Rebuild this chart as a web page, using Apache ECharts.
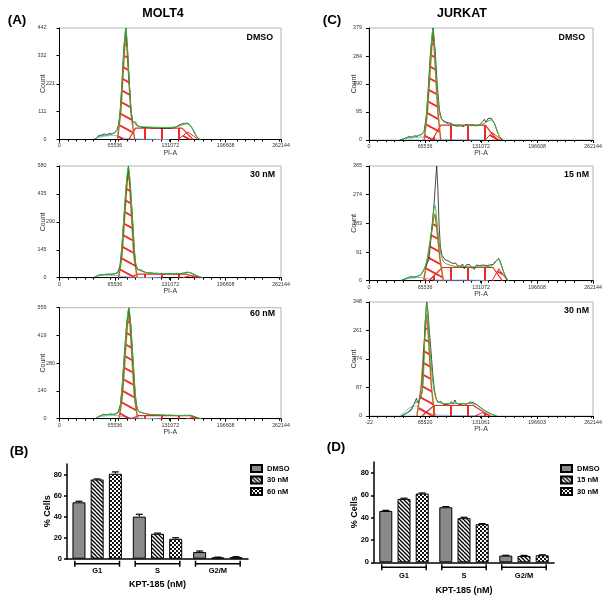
<!DOCTYPE html>
<html><head><meta charset="utf-8">
<script src="https://cdn.jsdelivr.net/npm/echarts@6/dist/echarts.min.js"></script>
<style>html,body{margin:0;padding:0;background:#fff}#c{width:612px;height:605px}</style>
</head><body><div id="c"></div>
<script>
// ---------------- DATA ----------------
// PI-A tick labels
const piTicks = [0, 65536, 131072, 196608, 262144];
const piTicksJurkat30 = [-22, 65520, 131061, 196603, 262144];
// Count tick labels
const molt4DmsoY = [0, 111, 221, 332, 442];
const molt4_30Y = [0, 145, 290, 435, 580];
const molt4_60Y = [0, 140, 280, 419, 559];
const jurkatDmsoY = [0, 95, 190, 284, 379];
const jurkat15Y = [0, 91, 183, 274, 365];
const jurkat30Y = [0, 87, 174, 261, 348];

// MOLT4 DMSO histogram (PI-A channel, count)
const molt4DmsoRaw = [[40000,0],[44000,5],[46000,15],[50000,18],[53000,22],[56000,19],[59000,24],[62000,22],[65000,27],[68000,38],[70000,60],[72000,120],[74000,230],[76000,360],[78500,442],[80500,360],[82500,230],[84500,120],[86500,72],[88000,66],[90000,68],[92000,55],[94000,58],[96000,50],[98000,54],[100000,47],[102000,52],[104000,48],[106000,51],[108000,46],[110000,50],[112000,45],[114000,51],[116000,46],[118000,49],[120000,44],[122000,49],[124000,45],[126000,48],[128000,44],[130000,48],[132000,45],[134000,50],[136000,47],[138000,51],[140000,54],[142000,57],[144000,61],[146000,59],[148000,64],[150000,62],[152000,65],[154000,59],[156000,50],[158000,38],[160000,24],[162000,12],[164000,4],[166000,0]];
const molt4DmsoFit = [[44000,8],[50000,15],[56000,18],[62000,22],[66000,28],[70000,52],[74000,225],[78500,440],[82500,225],[86000,80],[90000,58],[95000,52],[100000,50],[110000,49],[120000,48],[130000,48],[138000,50],[144000,56],[150000,62],[154000,58],[158000,40],[162000,15],[165000,3],[167000,0]];
const molt4DmsoG1 = [[68500,0],[72500,110],[78500,415],[84500,110],[89000,0]];
const molt4DmsoS = [[82000,0],[90000,45],[145000,45],[158000,0]];
const molt4DmsoG2 = [[140000,0],[152000,30],[164000,0]];
const molt4DmsoDebris = [[46000,8],[55000,14],[64000,16],[72000,10],[80000,4],[90000,2],[110000,1],[130000,0]];

// MOLT4 30 nM
const molt4_30Raw = [[40000,0],[44000,8],[47000,14],[52000,16],[57000,18],[62000,17],[66000,21],[69000,28],[71500,60],[74000,170],[76500,330],[79000,480],[81500,578],[84000,470],[86500,300],[88500,140],[90500,60],[92500,42],[94500,38],[96500,40],[98500,33],[100500,30],[103000,27],[106000,24],[109000,26],[112000,22],[115000,24],[118000,21],[121000,23],[124000,20],[127000,22],[130000,20],[133000,22],[136000,21],[139000,23],[142000,20],[145000,22],[148000,25],[151000,29],[154000,27],[157000,21],[160000,14],[163000,8],[166000,3],[169000,0]];
const molt4_30Fit = [[42000,5],[48000,14],[56000,18],[64000,20],[69000,25],[72000,60],[76000,300],[81500,572],[86500,300],[90000,80],[93000,42],[97000,34],[102000,27],[110000,23],[120000,21],[130000,21],[140000,21],[148000,24],[153000,27],[158000,21],[163000,10],[168000,2],[170000,0]];
const molt4_30G1 = [[70000,0],[74000,120],[81500,555],[88000,120],[92000,0]];
const molt4_30S = [[84000,0],[92000,19],[150000,19],[162000,0]];
const molt4_30G2 = [[146000,0],[156000,12],[166000,0]];
const molt4_30Debris = [[44000,8],[55000,12],[66000,12],[76000,6],[90000,2],[120000,0]];

// MOLT4 60 nM
const molt4_60Raw = [[42000,0],[46000,10],[48000,18],[52000,22],[56000,20],[60000,24],[64000,22],[67000,26],[69500,35],[72000,70],[74500,180],[77000,340],[79500,480],[82000,559],[84500,470],[87000,300],[89500,120],[92000,50],[94000,36],[96000,38],[98000,30],[100000,28],[103000,24],[106000,22],[109000,20],[112000,21],[115000,18],[118000,20],[121000,17],[124000,19],[127000,16],[130000,18],[133000,16],[136000,17],[139000,15],[142000,17],[145000,15],[148000,18],[151000,16],[154000,18],[157000,14],[160000,10],[163000,5],[166000,1],[168000,0]];
const molt4_60Fit = [[44000,5],[48000,15],[56000,20],[64000,22],[69000,28],[72000,60],[76500,300],[82000,555],[87000,300],[91000,70],[94000,36],[98000,30],[104000,23],[112000,20],[122000,18],[134000,17],[146000,16],[154000,16],[160000,10],[165000,3],[168000,0]];
const molt4_60G1 = [[70500,0],[74500,120],[82000,540],[88500,120],[92500,0]];
const molt4_60S = [[85000,0],[93000,15],[155000,15],[164000,0]];
const molt4_60G2 = [[150000,0],[158000,5],[166000,0]];
const molt4_60Debris = [[45000,8],[55000,14],[66000,16],[76000,10],[90000,3],[120000,0]];

// JURKAT DMSO
const jurkatDmsoRaw = [[36000,0],[40000,3],[44000,8],[47000,12],[50000,9],[53000,14],[56000,12],[59000,17],[62000,20],[64500,30],[67000,80],[69500,180],[72000,300],[74900,379],[77500,300],[80000,180],[82500,100],[85000,70],[87000,73],[89000,62],[91000,66],[93000,58],[95000,52],[97000,56],[99000,49],[101000,53],[103000,47],[105000,52],[107000,48],[109000,50],[111000,45],[113000,52],[115000,47],[117000,50],[119000,46],[121000,51],[123000,47],[125000,49],[127000,46],[129000,50],[131000,55],[133000,62],[135000,70],[137000,60],[139000,72],[141000,66],[143000,74],[145000,68],[147000,55],[149000,38],[151000,22],[153000,10],[155000,3],[157000,0]];
const jurkatDmsoFit = [[38000,2],[44000,8],[50000,11],[56000,14],[61000,18],[65000,30],[69000,150],[74900,375],[79000,200],[82500,90],[86000,66],[90000,58],[96000,52],[105000,50],[115000,49],[125000,48],[132000,52],[138000,62],[143000,68],[147000,55],[150000,30],[153000,10],[157000,0]];
const jurkatDmsoG1 = [[64500,0],[68500,100],[74900,360],[80500,100],[84000,0]];
const jurkatDmsoS = [[74000,0],[84000,50],[136000,50],[150000,0]];
const jurkatDmsoG2 = [[136000,0],[144000,25],[156000,0]];
const jurkatDmsoDebris = [[40000,3],[50000,7],[60000,10],[70000,8],[80000,3],[100000,1],[130000,0]];

// JURKAT 15 nM
const jurkat15Raw = [[37000,0],[41000,4],[45000,9],[49000,13],[53000,11],[57000,14],[61000,20],[64000,34],[66000,45],[68000,50],[70000,66],[72000,120],[74000,180],[76000,240],[77500,300],[79200,365],[80500,300],[82000,180],[83500,108],[85500,80],[87500,76],[89500,66],[91500,70],[93500,62],[95500,66],[97500,55],[99500,50],[101500,56],[103500,48],[105500,52],[107500,46],[109500,53],[111500,38],[113500,50],[115500,47],[117500,52],[119500,44],[121500,48],[123500,36],[125500,50],[127500,46],[129500,48],[131500,44],[133500,50],[135500,46],[137500,48],[139500,45],[141500,50],[143500,48],[145500,52],[147500,60],[149500,66],[151500,71],[153500,62],[155500,45],[157500,28],[159500,14],[161500,4],[163000,0]];
const jurkat15Fit = [[38000,2],[44000,8],[50000,12],[56000,14],[61000,20],[65000,40],[69000,80],[73000,150],[77000,241],[80500,160],[83500,95],[87000,62],[92000,52],[100000,46],[110000,45],[120000,44],[130000,44],[140000,45],[146000,52],[151000,68],[155000,48],[158000,25],[161000,8],[163000,0]];
const jurkat15G1 = [[64000,0],[68500,70],[77000,212],[83000,70],[87000,0]];
const jurkat15S = [[70000,0],[86000,42],[145000,42],[156000,0]];
const jurkat15G2 = [[144000,0],[152000,38],[162000,0]];
const jurkat15Debris = [[40000,3],[50000,8],[60000,10],[70000,6],[80000,2],[110000,2],[140000,0]];

// JURKAT 30 nM
const jurkat30Raw = [[37000,0],[41000,3],[44000,8],[47000,13],[50000,20],[52000,32],[54000,45],[55500,54],[57000,40],[59000,45],[61000,60],[62500,80],[64000,170],[65500,280],[67500,348],[69000,320],[70500,262],[72500,200],[74500,130],[76500,80],[78500,54],[80500,42],[82500,38],[84500,44],[86500,36],[88500,41],[90500,35],[92500,40],[94500,37],[96500,44],[98500,36],[100500,49],[102500,38],[104500,41],[106500,35],[108500,40],[110500,37],[112500,42],[114500,36],[116500,39],[118500,43],[120500,49],[122500,40],[124500,36],[126500,34],[128500,30],[130500,26],[132500,23],[134500,18],[136500,14],[138500,12],[140500,10],[143000,6],[146000,3],[149000,0]];
const jurkat30Fit = [[38000,2],[43000,8],[48000,18],[53000,38],[58000,45],[61000,60],[63500,110],[65500,262],[67500,345],[70000,262],[73000,150],[76000,80],[79000,50],[83000,40],[90000,38],[100000,38],[110000,38],[120000,38],[126000,34],[131000,24],[136000,15],[141000,8],[146000,3],[150000,0]];
const jurkat30G1 = [[56000,0],[61000,90],[67500,310],[73000,90],[77000,0]];
const jurkat30S = [[62000,0],[76000,32],[122000,32],[134000,12],[142000,0]];
const jurkat30G2 = [[124000,0],[132000,10],[142000,0]];
const jurkat30Debris = [[38000,2],[44000,18],[50000,28],[56000,30],[62000,22],[68000,12],[76000,5],[90000,2],[120000,1],[140000,0]];

// Bar charts: % cells per phase (mean, SD)
const phases = ['G1', 'S', 'G2/M'];
const molt4Treatments = ['DMSO', '30 nM', '60 nM'];
const molt4DmsoPct = [53.6, 40.0, 6.3];
const molt4DmsoSd = [1.0, 2.2, 1.0];
const molt4_30Pct = [75.3, 23.7, 1.2];
const molt4_30Sd = [0.5, 0.6, 0.3];
const molt4_60Pct = [80.7, 18.9, 1.5];
const molt4_60Sd = [1.8, 1.0, 0.4];
const jurkatTreatments = ['DMSO', '15 nM', '30 nM'];
const jurkatDmsoPct = [46.1, 49.4, 6.0];
const jurkatDmsoSd = [0.5, 0.6, 0.3];
const jurkat15Pct = [56.9, 39.6, 5.7];
const jurkat15Sd = [0.6, 0.8, 0.5];
const jurkat30Pct = [61.7, 34.2, 6.3];
const jurkat30Sd = [0.5, 0.5, 0.4];
const pctTicks = [0, 20, 40, 60, 80];

// ---------------- STYLE HELPERS ----------------
function makePattern(w, h, draw) {
  const c = document.createElement('canvas');
  c.width = w; c.height = h;
  draw(c.getContext('2d'), w, h);
  return { image: c, repeat: 'repeat' };
}
function diag(ctx, w, h) {
  for (const dx of [-w, 0, w]) for (const dy of [-h, 0, h]) {
    ctx.beginPath(); ctx.moveTo(dx, dy); ctx.lineTo(dx + w, dy + h); ctx.stroke();
  }
}
const RED = '#ee2a24';
const hatchRed = makePattern(22, 12, (ctx, w, h) => { ctx.strokeStyle = RED; ctx.lineWidth = 1.9; diag(ctx, w, h); });
const vertRed = makePattern(17, 4, (ctx) => { ctx.fillStyle = RED; ctx.fillRect(8, 0, 2, 4); });
const stripes = makePattern(4, 4, (ctx, w, h) => { ctx.fillStyle = '#fff'; ctx.fillRect(0, 0, w, h); ctx.strokeStyle = '#000'; ctx.lineWidth = 1.3; diag(ctx, w, h); });
const checker = makePattern(4, 4, (ctx) => { ctx.fillStyle = '#111'; ctx.fillRect(0, 0, 4, 4); ctx.fillStyle = '#fff'; ctx.fillRect(0, 0, 2, 2); ctx.fillRect(2, 2, 2, 2); });
const FONT = 'Arial, "Liberation Sans", sans-serif';

// ---------------- HISTOGRAMS ----------------
const hists = [
  { grid: { left: 59.5, top: 28, width: 221.5, height: 111.5 }, x: piTicks, y: molt4DmsoY, raw: molt4DmsoRaw, fit: molt4DmsoFit, g1: molt4DmsoG1, s: molt4DmsoS, g2: molt4DmsoG2, deb: molt4DmsoDebris, lm: 13, ng: 13, shiftMid: true },
  { grid: { left: 59.5, top: 166, width: 221.5, height: 111.7 }, x: piTicks, y: molt4_30Y, raw: molt4_30Raw, fit: molt4_30Fit, g1: molt4_30G1, s: molt4_30S, g2: molt4_30G2, deb: molt4_30Debris, lm: 13, ng: 13, shiftMid: true },
  { grid: { left: 59.5, top: 307.7, width: 221.5, height: 111 }, x: piTicks, y: molt4_60Y, raw: molt4_60Raw, fit: molt4_60Fit, g1: molt4_60G1, s: molt4_60S, g2: molt4_60G2, deb: molt4_60Debris, lm: 13, ng: 13, shiftMid: true },
  { grid: { left: 369, top: 28, width: 224, height: 112 }, x: piTicks, y: jurkatDmsoY, raw: jurkatDmsoRaw, fit: jurkatDmsoFit, g1: jurkatDmsoG1, s: jurkatDmsoS, g2: jurkatDmsoG2, deb: jurkatDmsoDebris, lm: 7, ng: 11.5 },
  { grid: { left: 369, top: 166, width: 224, height: 114.7 }, x: piTicks, y: jurkat15Y, raw: jurkat15Raw, fit: jurkat15Fit, g1: jurkat15G1, s: jurkat15S, g2: jurkat15G2, deb: jurkat15Debris, lm: 7, ng: 11.5 },
  { grid: { left: 369, top: 302, width: 224, height: 114 }, x: piTicksJurkat30, y: jurkat30Y, raw: jurkat30Raw, fit: jurkat30Fit, g1: jurkat30G1, s: jurkat30S, g2: jurkat30G2, deb: jurkat30Debris, lm: 7, ng: 11.5 }
];

const grids = [], xAxes = [], yAxes = [], series = [], extraY = [];
hists.forEach((h, i) => {
  grids.push(Object.assign({ show: true, borderColor: '#b5b5b5', borderWidth: 1, backgroundColor: 'transparent', outerBoundsMode: 'none' }, h.grid));
  const xt = h.x, yt = h.y;
  const mid = yt[2];
  xAxes.push({
    type: 'value', gridIndex: i, min: xt[0], max: xt[xt.length - 1],
    axisLine: { show: true, onZero: false, lineStyle: { color: '#000', width: 1 } },
    axisTick: { show: true, length: 3, lineStyle: { color: '#000' }, customValues: xt },
    minorTick: { show: true, splitNumber: 5, length: 2, lineStyle: { color: '#000' } },
    axisLabel: { fontSize: 5.3, color: '#333', fontFamily: FONT, margin: 4, customValues: xt, formatter: v => String(Math.round(v)) },
    splitLine: { show: false },
    name: 'PI-A', nameLocation: 'middle', nameGap: 10, nameMoveOverlap: false,
    nameTextStyle: { fontSize: 7, color: '#333', fontFamily: FONT }
  });
  yAxes.push({
    type: 'value', gridIndex: i, min: 0, max: yt[yt.length - 1],
    axisLine: { show: true, lineStyle: { color: '#000', width: 1 } },
    axisTick: { show: true, length: 3, lineStyle: { color: '#000' }, customValues: yt },
    axisLabel: { fontSize: 5.4, color: '#333', fontFamily: FONT, margin: h.lm, customValues: h.shiftMid ? yt.filter(v => v !== mid) : yt },
    splitLine: { show: false },
    name: 'Count', nameLocation: 'middle', nameGap: h.ng, nameRotate: 90, nameMoveOverlap: false,
    nameTextStyle: { fontSize: 7, color: '#333', fontFamily: FONT }
  });
  if (h.shiftMid) {
    // middle tick label sits closer to the axis, beside the "Count" title
    extraY.push({
      type: 'value', gridIndex: i, min: 0, max: yt[yt.length - 1], position: 'left',
      axisLine: { show: false }, axisTick: { show: false }, splitLine: { show: false },
      axisLabel: { fontSize: 5.4, color: '#333', fontFamily: FONT, margin: 4.5, customValues: [mid] }
    });
  }
  const base = { type: 'line', xAxisIndex: i, yAxisIndex: i, showSymbol: false, symbol: 'none', silent: true, animation: false };
  series.push(Object.assign({}, base, { data: h.deb, smooth: 0.5, lineStyle: { color: '#8fb4e8', width: 1 }, z: 2 }));
  series.push(Object.assign({}, base, { data: h.s, lineStyle: { color: RED, width: 1.2 }, areaStyle: { color: vertRed, opacity: 1 }, z: 3 }));
  series.push(Object.assign({}, base, { data: h.g2, lineStyle: { color: RED, width: 1 }, areaStyle: { color: hatchRed, opacity: 1 }, z: 3 }));
  series.push(Object.assign({}, base, { data: h.g1, smooth: 0.15, lineStyle: { color: '#c8642a', width: 1.5 }, areaStyle: { color: hatchRed, opacity: 1 }, z: 4 }));
  series.push(Object.assign({}, base, { data: h.raw, lineStyle: { color: '#1a1a1a', width: 0.8 }, z: 5 }));
  series.push(Object.assign({}, base, { data: h.fit, smooth: 0.3, lineStyle: { color: '#38b838', width: 1 }, z: 6 }));
});

// ---------------- BAR CHARTS ----------------
const barCharts = [
  { grid: { left: 67, top: 464, width: 181, height: 94.7 }, prefix: 'MOLT4 ', names: molt4Treatments, vals: [molt4DmsoPct, molt4_30Pct, molt4_60Pct], sds: [molt4DmsoSd, molt4_30Sd, molt4_60Sd], legend: { left: 250, top: 464 }, nameGap: 21, lm: 8 },
  { grid: { left: 374, top: 462, width: 180, height: 100.3 }, prefix: 'JURKAT ', names: jurkatTreatments, vals: [jurkatDmsoPct, jurkat15Pct, jurkat30Pct], sds: [jurkatDmsoSd, jurkat15Sd, jurkat30Sd], legend: { left: 560, top: 464 }, nameGap: 24, lm: 10 }
];
const fills = ['#8a8a8a', stripes, checker];
const BW = 13, GAP = 0.4;
const legends = [];
barCharts.forEach((b, k) => {
  const gi = 6 + k;
  grids.push(Object.assign({ outerBoundsMode: 'none' }, b.grid));
  xAxes.push({
    type: 'category', gridIndex: gi, data: phases,
    axisLine: { show: true, lineStyle: { color: '#000', width: 1.5 } },
    axisTick: { show: false },
    axisLabel: { fontSize: 7.5, fontWeight: 'bold', color: '#000', fontFamily: FONT, margin: b.lm },
    name: 'KPT-185 (nM)', nameLocation: 'middle', nameGap: b.nameGap, nameMoveOverlap: false,
    nameTextStyle: { fontSize: 9, fontWeight: 'bold', color: '#000', fontFamily: FONT }
  });
  yAxes.push({
    type: 'value', gridIndex: gi, min: 0, max: 90,
    axisLine: { show: true, lineStyle: { color: '#000', width: 1.5 } },
    axisTick: { show: true, length: 3, lineStyle: { color: '#000', width: 1.5 }, customValues: pctTicks },
    axisLabel: { fontSize: 7.5, fontWeight: 'bold', color: '#000', fontFamily: FONT, margin: 5, customValues: pctTicks },
    splitLine: { show: false },
    name: '% Cells', nameLocation: 'middle', nameGap: 15, nameRotate: 90, nameMoveOverlap: false,
    nameTextStyle: { fontSize: 9, fontWeight: 'bold', color: '#000', fontFamily: FONT }
  });
  const legendNames = [];
  b.names.forEach((n, j) => {
    const sname = b.prefix + n;
    legendNames.push(sname);
    series.push({
      type: 'bar', name: sname, xAxisIndex: gi, yAxisIndex: gi, data: b.vals[j],
      barWidth: BW, barGap: (GAP * 100) + '%', animation: false, silent: true,
      itemStyle: { color: fills[j], borderColor: '#000', borderWidth: 1 }, z: 2
    });
    // error bars (upper) drawn through the axis scales
    series.push({
      type: 'custom', xAxisIndex: gi, yAxisIndex: gi, silent: true, animation: false, z: 3,
      data: phases.map((p, c) => [c, b.vals[j][c], b.sds[j][c]]),
      encode: { x: 0, y: 1 },
      renderItem: (params, api) => {
        const off = (j - 1) * BW * (1 + GAP);
        const p0 = api.coord([api.value(0), api.value(1)]);
        const p1 = api.coord([api.value(0), api.value(1) + api.value(2)]);
        const x = p0[0] + off;
        return { type: 'group', children: [
          { type: 'line', shape: { x1: x, y1: p0[1], x2: x, y2: p1[1] }, style: { stroke: '#000', lineWidth: 1.2 } },
          { type: 'line', shape: { x1: x - 3.5, y1: p1[1], x2: x + 3.5, y2: p1[1] }, style: { stroke: '#000', lineWidth: 1.2 } }
        ] };
      }
    });
  });
  // group brackets under the category axis
  series.push({
    type: 'custom', xAxisIndex: gi, yAxisIndex: gi, silent: true, animation: false, clip: false,
    data: phases.map((p, c) => [c, 0]), encode: { x: 0, y: 1 },
    renderItem: (params, api) => {
      const c = api.coord([api.value(0), 0]);
      const hw = api.size([1, 0])[0] * 0.37;
      const y = c[1] + 5;
      const st = { stroke: '#000', lineWidth: 1.5 };
      return { type: 'group', children: [
        { type: 'line', shape: { x1: c[0] - hw, y1: y, x2: c[0] + hw, y2: y }, style: st },
        { type: 'line', shape: { x1: c[0] - hw, y1: y - 3, x2: c[0] - hw, y2: y + 3 }, style: st },
        { type: 'line', shape: { x1: c[0] + hw, y1: y - 3, x2: c[0] + hw, y2: y + 3 }, style: st }
      ] };
    }
  });
  legends.push({
    data: legendNames, orient: 'vertical', left: b.legend.left, top: b.legend.top, padding: 0,
    itemWidth: 11, itemHeight: 7, itemGap: 2.5, icon: 'rect', selectedMode: false,
    formatter: nm => nm.replace(b.prefix, ''),
    textStyle: { fontSize: 7.5, fontWeight: 'bold', color: '#000', fontFamily: FONT, padding: [0, 0, 0, 0] }
  });
});
extraY.forEach(a => yAxes.push(a));

// ---------------- TEXT ----------------
function txt(x, y, text, size, align) {
  return { type: 'text', x: x, y: y, silent: true, style: { text: text, font: 'bold ' + size + 'px ' + FONT, fill: '#000', textAlign: align || 'center', textVerticalAlign: 'middle', verticalAlign: 'middle' } };
}
const graphics = [
  txt(17, 20.5, '(A)', 13.5), txt(163, 14, 'MOLT4', 12.5),
  txt(332, 20.5, '(C)', 13.5), txt(462, 14, 'JURKAT', 12.5),
  txt(19, 451, '(B)', 13.5), txt(336, 447, '(D)', 13.5),
  txt(273, 38, 'DMSO', 8.8, 'right'), txt(275, 175, '30 nM', 8.8, 'right'), txt(275, 314, '60 nM', 8.8, 'right'),
  txt(585, 38, 'DMSO', 8.8, 'right'), txt(589, 175, '15 nM', 8.8, 'right'), txt(589, 311, '30 nM', 8.8, 'right')
];

const chart = echarts.init(document.getElementById('c'), null, { renderer: 'canvas' });
chart.setOption({
  backgroundColor: '#fff',
  animation: false,
  grid: grids, xAxis: xAxes, yAxis: yAxes, series: series, legend: legends,
  graphic: { elements: graphics }
});
</script></body></html>
